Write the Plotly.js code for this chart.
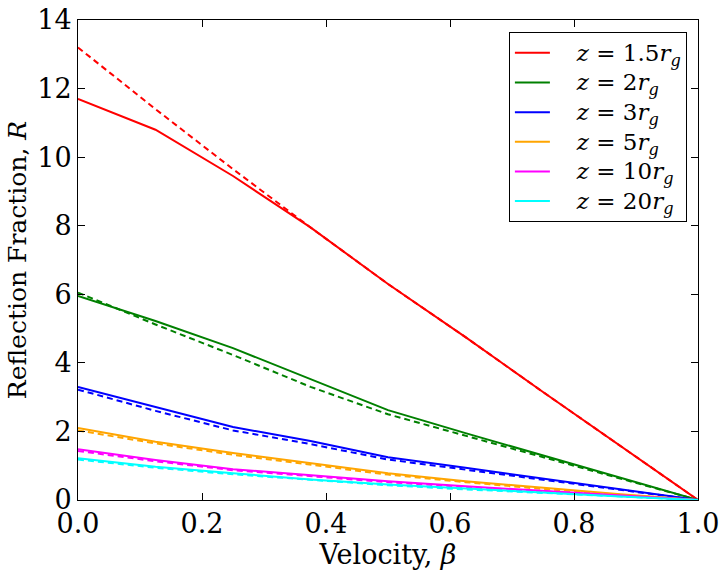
<!DOCTYPE html>
<html>
<head>
<meta charset="utf-8">
<script src="https://cdn.plot.ly/plotly-3.0.1.min.js"></script>
<style>
  html, body { margin: 0; padding: 0; background: #fff; }
  #plotDiv { width: 728px; height: 573px; }
</style>
</head>
<body>
<div id="plotDiv"></div>
<script>
// Reflection fraction vs velocity, solid = one model, dashed = the other.

const beta = [0, 0.125, 0.25, 0.375, 0.5, 0.625, 0.75, 0.875, 1.0];

const labels = ['1.5', '2', '3', '5', '10', '20'];
const colors = ['#ff0000', '#008000', '#0000ff', '#ffa500', '#ff00ff', '#00ffff'];

const solidR = [
    [11.7, 10.8, 9.45, 7.95, 6.3, 4.75, 3.15, 1.58, 0],
    [5.95, 5.22, 4.43, 3.52, 2.62, 1.95, 1.3, 0.65, 0],
    [3.3, 2.71, 2.13, 1.72, 1.25, 0.94, 0.62, 0.31, 0],
    [2.1, 1.7, 1.37, 1.07, 0.78, 0.55, 0.35, 0.17, 0],
    [1.48, 1.17, 0.9, 0.72, 0.55, 0.4, 0.26, 0.13, 0],
    [1.22, 0.97, 0.78, 0.6, 0.45, 0.33, 0.21, 0.1, 0],
];

const dashedR = [
    [13.2, 11.4, 9.65, 7.95, 6.3, 4.75, 3.15, 1.58, 0],
    [6.05, 5.12, 4.23, 3.3, 2.5, 1.88, 1.25, 0.62, 0],
    [3.22, 2.6, 2.03, 1.63, 1.18, 0.89, 0.58, 0.29, 0],
    [2.03, 1.65, 1.32, 1.02, 0.74, 0.52, 0.32, 0.15, 0],
    [1.43, 1.13, 0.87, 0.69, 0.52, 0.38, 0.24, 0.12, 0],
    [1.18, 0.94, 0.75, 0.58, 0.43, 0.31, 0.2, 0.1, 0],
];

const xTicks = [0, 0.2, 0.4, 0.6, 0.8, 1.0];
const xTickText = ['0.0', '0.2', '0.4', '0.6', '0.8', '1.0'];
const yTicks = [0, 2, 4, 6, 8, 10, 12, 14];

const traces = [];
labels.forEach((lab, i) => {
    traces.push({
        x: beta, y: dashedR[i],
        type: 'scatter', mode: 'lines', showlegend: false, hoverinfo: 'skip',
        line: { color: colors[i], width: 2, dash: '6px,4px' },
    });
});
// legend rows are spaced from legend.font.size, the text itself is drawn a bit bigger
const nb = '\u00a0\u00a0\u00a0';
labels.forEach((lab, i) => {
    traces.push({
        x: beta, y: solidR[i],
        name: `<span style="font-size:23px">${nb}<i>z</i> = ${lab}<i>r</i><sub><i>g</i></sub></span>`,
        type: 'scatter', mode: 'lines',
        line: { color: colors[i], width: 2 },
    });
});

const font = 'DejaVu Serif, serif';
const axis = {
    showgrid: false, zeroline: false,
    showline: true, linecolor: '#000', linewidth: 1, mirror: 'ticks',
    ticks: 'inside', ticklen: 7, tickcolor: '#000', tickwidth: 1,
    tickfont: { family: font, size: 27, color: '#000' },
};

const layout = {
    width: 728, height: 573,
    paper_bgcolor: '#fff', plot_bgcolor: '#fff',
    font: { family: font, color: '#000' },
    margin: { l: 78, r: 30, t: 20, b: 73 },
    xaxis: {
        ...axis, range: [0, 1], tickvals: xTicks, ticktext: xTickText,
        title: { text: 'Velocity, <i>β</i>', font: { family: font, size: 27 }, standoff: 0 },
    },
    yaxis: {
        ...axis, range: [0, 14], tickvals: yTicks,
        title: { text: 'Reflection Fraction, <i>R</i>', font: { family: font, size: 25 }, standoff: 3 },
    },
    legend: {
        x: 0.695, y: 0.975, xanchor: 'left', yanchor: 'top',
        bgcolor: '#fff', bordercolor: '#000', borderwidth: 1,
        font: { family: font, size: 20.5, color: '#000' },
        itemwidth: 35,
    },
    showlegend: true,
};

Plotly.newPlot('plotDiv', traces, layout, { displayModeBar: false, staticPlot: true });
</script>
</body>
</html>
